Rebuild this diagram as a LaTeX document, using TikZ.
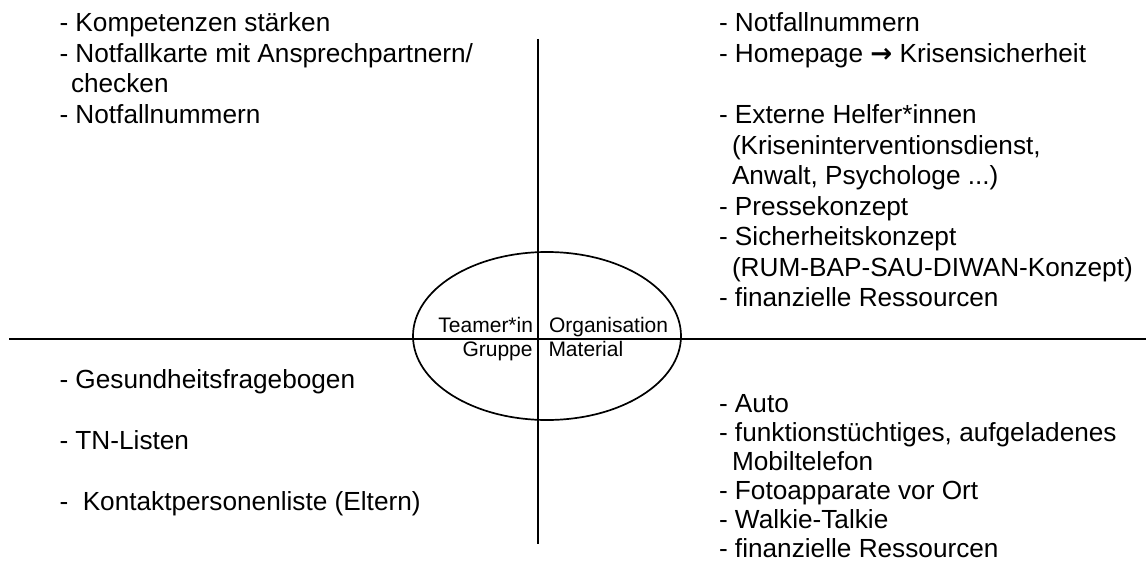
\documentclass[tikz,border=0pt]{standalone}
\usepackage{fontspec}
\setmainfont{Liberation Sans}
\newfontfamily\arrowfont{DejaVu Sans}
\usetikzlibrary{shapes.geometric}
\newcommand\bigtxt{\fontsize{26.2}{30}\selectfont}
\newcommand\smalltxt{\fontsize{21}{24}\selectfont}
\tikzset{
  itemL/.style={anchor=base west, inner sep=0pt, outer sep=0pt, font=\bigtxt},
  labE/.style={anchor=base east, inner sep=0pt, outer sep=0pt, font=\smalltxt},
  labW/.style={anchor=base west, inner sep=0pt, outer sep=0pt, font=\smalltxt},
  axis/.style={line width=1.9pt, black},
  hub/.style={draw, line width=1.7pt, ellipse, inner sep=0pt, minimum width=268pt, minimum height=168pt}
}
\begin{document}
\begin{tikzpicture}[x=1pt,y=-1pt]
\useasboundingbox (0,0) rectangle (1146,575);
% axes
\coordinate (vt) at (538,39);
\coordinate (vb) at (538,544);
\coordinate (hl) at (9,339);
\coordinate (hr) at (1146,339);
\node[hub] (ell) at (547,336) {};
\draw[axis] (vt) -- (vb);
\draw[axis] (hl) -- (hr);
% labels in the ellipse
\node[labE] (team) at (533,332.5) {Teamer*in};
\node[labE] (grp) at (532.6,356.7) {Gruppe};
\node[labW] (org) at (549,332.5) {Organisation};
\node[labW] (mat) at (548.5,356.7) {Material};
% top left
\node[itemL] (tl1) at (59.5,32) {- Kompetenzen stärken};
\node[itemL] (tl2) at (59.5,62.5) {- Notfallkarte mit Ansprechpartnern/};
\node[itemL] (tl3) at (71,93) {checken};
\node[itemL] (tl4) at (59.5,123.5) {- Notfallnummern};
% top right
\node[itemL] (tr1) at (719,32) {- Notfallnummern};
\node[itemL] (tr2) at (719,62.5) {- Homepage {\arrowfont\bfseries →} Krisensicherheit};
\node[itemL] (tr3) at (719,123.5) {- Externe Helfer*innen};
\node[itemL] (tr4) at (732,154) {(Kriseninterventionsdienst,};
\node[itemL] (tr5) at (732,184.5) {Anwalt, Psychologe ...)};
\node[itemL] (tr6) at (719,215) {- Pressekonzept};
\node[itemL] (tr7) at (719,245.5) {- Sicherheitskonzept};
\node[itemL] (tr8) at (732,276) {(RUM-BAP-SAU-DIWAN-Konzept)};
\node[itemL] (tr9) at (719,306.5) {- finanzielle Ressourcen};
% bottom left
\node[itemL] (bl1) at (59.5,388) {- Gesundheitsfragebogen};
\node[itemL] (bl2) at (59.5,449) {- TN-Listen};
\node[itemL] (bl3) at (59.5,510) {-\ \ Kontaktpersonenliste (Eltern)};
% bottom right
\node[itemL] (br1) at (719,412) {- Auto};
\node[itemL] (br2) at (719,441) {- funktionstüchtiges, aufgeladenes};
\node[itemL] (br3) at (732,470) {Mobiltelefon};
\node[itemL] (br4) at (719,499) {- Fotoapparate vor Ort};
\node[itemL] (br5) at (719,528) {- Walkie-Talkie};
\node[itemL] (br6) at (719,557) {- finanzielle Ressourcen};
\end{tikzpicture}
\end{document}
